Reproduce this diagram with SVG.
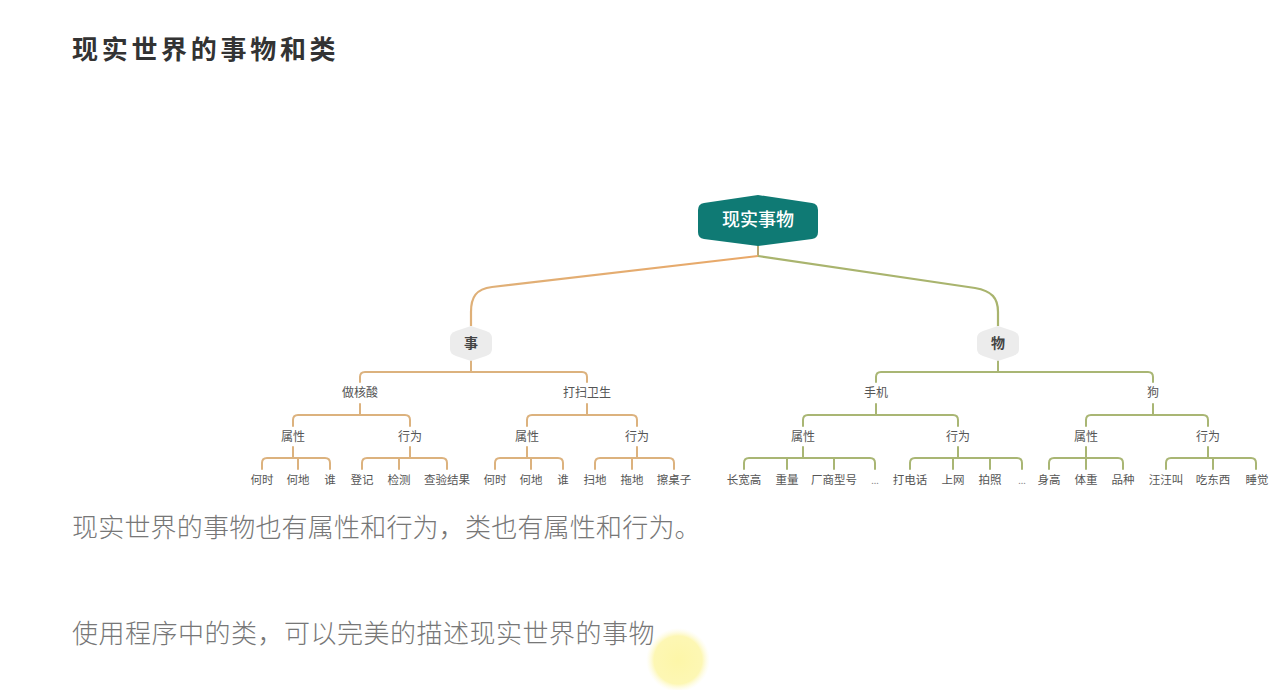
<svg xmlns="http://www.w3.org/2000/svg" width="1287" height="690" viewBox="0 0 1287 690">
<defs>
<radialGradient id="glow" cx="0.5" cy="0.5" r="0.5">
<stop offset="0" stop-color="#fdf6a8"/>
<stop offset="0.75" stop-color="#fdf7b4"/>
<stop offset="1" stop-color="#fefbe0" stop-opacity="0"/>
</radialGradient>
<linearGradient id="gl" x1="1" y1="0" x2="0" y2="0">
<stop offset="0" stop-color="#e9a868"/>
<stop offset="1" stop-color="#dfb078"/>
</linearGradient>
</defs>
<style>
.cjk{font-family:"Noto Sans CJK SC","Liberation Sans",sans-serif;}
.title{font-size:26px;font-weight:bold;fill:#333;letter-spacing:3.7px;}
.body{font-size:26px;fill:#777;font-weight:300;}
.lbl{font-size:12px;fill:#555;text-anchor:middle;}
.leaf{font-size:11.5px;fill:#555;text-anchor:middle;}
.dots{font-size:9px;fill:#888;text-anchor:middle;}
.mid{font-size:14px;fill:#444;text-anchor:middle;font-weight:bold;}
.root{font-size:18px;fill:#ffffff;text-anchor:middle;font-weight:500;}
.o{fill:none;stroke:#dcb27e;stroke-width:2;stroke-linecap:round;}
.g{fill:none;stroke:#a9b674;stroke-width:2;stroke-linecap:round;}
.hex{fill:#ececec;}
</style>
<rect width="1287" height="690" fill="#ffffff"/>
<text class="cjk title" x="72" y="59">现实世界的事物和类</text>
<text class="cjk body" x="72" y="537" style="letter-spacing:0.2px">现实世界的事物也有属性和行为，类也有属性和行为。</text>
<text class="cjk body" x="72" y="643" style="letter-spacing:0.5px">使用程序中的类，可以完美的描述现实世界的事物</text>
<circle cx="678" cy="660" r="32" fill="url(#glow)"/>

<g id="connectors">
<path d="M758 245 L758 256" fill="none" stroke="#b9a874" stroke-width="2"/>
<path d="M758 256 L492 287 C476 289 471 297 471 312 L471 326" fill="none" stroke="url(#gl)" stroke-width="2.2"/>
<path d="M758 256 L975 288 C992 291 998 298 998 312 L998 326" fill="none" stroke="#a9b46e" stroke-width="2.2"/>
<!-- left -->
<path class="o" d="M471 360 L471 372 M360 382 L360 377 Q360 372 365 372 L582 372 Q587 372 587 377 L587 382"/>
<path class="o" d="M360 404 L360 415 M293 426 L293 420 Q293 415 298 415 L405 415 Q410 415 410 420 L410 426"/>
<path class="o" d="M587 404 L587 415 M527 426 L527 420 Q527 415 532 415 L632 415 Q637 415 637 420 L637 426"/>
<path class="o" d="M293 447 L293 458 M262 469 L262 463 Q262 458 267 458 L325 458 Q330 458 330 463 L330 469 M298 458 L298 469"/>
<path class="o" d="M410 447 L410 458 M362 469 L362 463 Q362 458 367 458 L442 458 Q447 458 447 463 L447 469 M399 458 L399 469"/>
<path class="o" d="M527 447 L527 458 M495 469 L495 463 Q495 458 500 458 L558 458 Q563 458 563 463 L563 469 M531 458 L531 469"/>
<path class="o" d="M637 447 L637 458 M595 469 L595 463 Q595 458 600 458 L669 458 Q674 458 674 463 L674 469 M632 458 L632 469"/>
<!-- right -->
<path class="g" d="M998 360 L998 372 M876 382 L876 377 Q876 372 881 372 L1148 372 Q1153 372 1153 377 L1153 382"/>
<path class="g" d="M876 404 L876 415 M803 426 L803 420 Q803 415 808 415 L953 415 Q958 415 958 420 L958 426"/>
<path class="g" d="M1153 404 L1153 415 M1086 426 L1086 420 Q1086 415 1091 415 L1203 415 Q1208 415 1208 420 L1208 426"/>
<path class="g" d="M803 447 L803 458 M744 469 L744 463 Q744 458 749 458 L870 458 Q875 458 875 463 L875 469 M787 458 L787 469 M834 458 L834 469"/>
<path class="g" d="M958 447 L958 458 M910 469 L910 463 Q910 458 915 458 L1017 458 Q1022 458 1022 463 L1022 469 M953 458 L953 469 M990 458 L990 469"/>
<path class="g" d="M1086 447 L1086 458 M1049 469 L1049 463 Q1049 458 1054 458 L1118 458 Q1123 458 1123 463 L1123 469 M1086 458 L1086 469"/>
<path class="g" d="M1208 447 L1208 458 M1166 469 L1166 463 Q1166 458 1171 458 L1251 458 Q1256 458 1256 463 L1256 469 M1213 458 L1213 469"/>
</g>

<g id="root">
<path d="M704 203 L758 195 L812 203 Q818 204 818 210 L818 232 Q818 238 812 239 L758 246 L704 239 Q698 238 698 232 L698 210 Q698 204 704 203 Z" fill="#0f7a74"/>
<text class="cjk root" x="758" y="226">现实事物</text>
</g>
<g id="shi">
<path class="hex" d="M456 331 L471 326 L486 331 Q492 333 492 338 L492 349 Q492 354 486 356 L471 361 L456 356 Q450 354 450 349 L450 338 Q450 333 456 331 Z"/>
<text class="cjk mid" x="471" y="348">事</text>
</g>
<g id="wu">
<path class="hex" d="M983 331 L998 326 L1013 331 Q1019 333 1019 338 L1019 349 Q1019 354 1013 356 L998 361 L983 356 Q977 354 977 349 L977 338 Q977 333 983 331 Z"/>
<text class="cjk mid" x="998" y="348">物</text>
</g>

<g id="hesuan"><text class="cjk lbl" x="360" y="397">做核酸</text></g>
<g id="dasao"><text class="cjk lbl" x="587" y="397">打扫卫生</text></g>
<g id="shouji"><text class="cjk lbl" x="876" y="397">手机</text></g>
<g id="gou"><text class="cjk lbl" x="1153" y="397">狗</text></g>

<g id="hs-attr"><text class="cjk lbl" x="293" y="441">属性</text></g>
<g id="hs-act"><text class="cjk lbl" x="410" y="441">行为</text></g>
<g id="ds-attr"><text class="cjk lbl" x="527" y="441">属性</text></g>
<g id="ds-act"><text class="cjk lbl" x="637" y="441">行为</text></g>
<g id="sj-attr"><text class="cjk lbl" x="803" y="441">属性</text></g>
<g id="sj-act"><text class="cjk lbl" x="958" y="441">行为</text></g>
<g id="g-attr"><text class="cjk lbl" x="1086" y="441">属性</text></g>
<g id="g-act"><text class="cjk lbl" x="1208" y="441">行为</text></g>

<g id="leaves">
<g id="l1"><text class="cjk leaf" x="262" y="484">何时</text></g>
<g id="l2"><text class="cjk leaf" x="298" y="484">何地</text></g>
<g id="l3"><text class="cjk leaf" x="330" y="484">谁</text></g>
<g id="l4"><text class="cjk leaf" x="362" y="484">登记</text></g>
<g id="l5"><text class="cjk leaf" x="399" y="484">检测</text></g>
<g id="l6"><text class="cjk leaf" x="447" y="484">查验结果</text></g>
<g id="l7"><text class="cjk leaf" x="495" y="484">何时</text></g>
<g id="l8"><text class="cjk leaf" x="531" y="484">何地</text></g>
<g id="l9"><text class="cjk leaf" x="563" y="484">谁</text></g>
<g id="l10"><text class="cjk leaf" x="595" y="484">扫地</text></g>
<g id="l11"><text class="cjk leaf" x="632" y="484">拖地</text></g>
<g id="l12"><text class="cjk leaf" x="674" y="484">擦桌子</text></g>
<g id="l13"><text class="cjk leaf" x="744" y="484">长宽高</text></g>
<g id="l14"><text class="cjk leaf" x="787" y="484">重量</text></g>
<g id="l15"><text class="cjk leaf" x="834" y="484">厂商型号</text></g>
<g id="l16"><text class="cjk dots" x="875" y="484">...</text></g>
<g id="l17"><text class="cjk leaf" x="910" y="484">打电话</text></g>
<g id="l18"><text class="cjk leaf" x="953" y="484">上网</text></g>
<g id="l19"><text class="cjk leaf" x="990" y="484">拍照</text></g>
<g id="l20"><text class="cjk dots" x="1022" y="484">...</text></g>
<g id="l21"><text class="cjk leaf" x="1049" y="484">身高</text></g>
<g id="l22"><text class="cjk leaf" x="1086" y="484">体重</text></g>
<g id="l23"><text class="cjk leaf" x="1123" y="484">品种</text></g>
<g id="l24"><text class="cjk leaf" x="1166" y="484">汪汪叫</text></g>
<g id="l25"><text class="cjk leaf" x="1213" y="484">吃东西</text></g>
<g id="l26"><text class="cjk leaf" x="1257" y="484">睡觉</text></g>
</g>
</svg>
